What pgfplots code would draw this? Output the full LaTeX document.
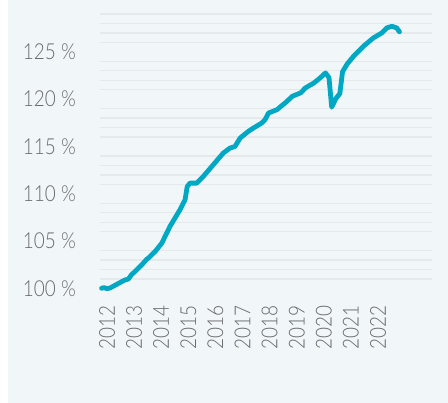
\documentclass[border=0pt]{standalone}
\usepackage{pgfplots}
\pgfplotsset{compat=1.18}
\usepackage{fontspec}
\setmainfont{Liberation Sans}
\newfontfamily\tickfont[FakeStretch=0.86]{Lato Light}
\definecolor{bg}{RGB}{241,246,249}
\definecolor{gridc}{RGB}{229,233,235}
\definecolor{tickgray}{RGB}{105,105,105}
\definecolor{linec}{RGB}{0,168,196}
\begin{document}
\begin{tikzpicture}[x=1pt,y=1pt]
\useasboundingbox (0,0) rectangle (448,403);
\fill[bg] (8,0) rectangle (448,403);
\begin{axis}[
  at={(100pt,114.5pt)}, anchor=south west,
  scale only axis, width=332pt, height=274.5pt,
  xmin=2011.742, xmax=2023.99, ymin=100, ymax=129,
  axis line style={draw=none},
  tick style={draw=none},
  major tick length=0pt,
  xtick={2012,2013,2014,2015,2016,2017,2018,2019,2020,2021,2022},
  xticklabels={2012,2013,2014,2015,2016,2017,2018,2019,2020,2021,2022},
  ytick={100,105,110,115,120,125},
  yticklabels={100 \%,105 \%,110 \%,115 \%,120 \%,125 \%},
  ticklabel style={font=\tickfont\fontsize{22}{22}\selectfont, text=tickgray, inner sep=0pt},
  yticklabel style={anchor=east, xshift=-24pt},
  xticklabel style={rotate=90, anchor=east, xshift=-16.5pt},
  extra y ticks={101,102,103,104,106,107,108,109,111,112,113,114,116,117,118,119,121,122,123,124,126,127,128,129},
  extra y tick labels={},
  extra y tick style={grid=major},
  major grid style={draw=gridc, line width=1.3pt},
  clip=false,
]
\addplot[linec, line width=4.8pt, line join=round, line cap=round] coordinates {
(2011.80,100.02) (2011.89,100.10) (2011.99,99.98) (2012.11,100.05)
(2012.42,100.53) (2012.66,100.90) (2012.79,101.00) (2012.91,101.48)
(2013.03,101.78) (2013.28,102.49) (2013.46,103.07) (2013.52,103.20)
(2013.77,103.89) (2013.83,104.10) (2014.02,104.78) (2014.32,106.54)
(2014.69,108.31) (2014.88,109.37) (2014.96,110.77) (2015.06,111.13)
(2015.31,111.13) (2015.55,111.83) (2015.92,113.07) (2016.29,114.31)
(2016.54,114.84) (2016.72,115.00) (2016.91,115.89) (2017.21,116.59)
(2017.40,116.95) (2017.71,117.48) (2017.83,117.83) (2017.96,118.54)
(2018.27,118.89) (2018.64,119.77) (2018.83,120.30) (2019.14,120.66)
(2019.32,121.19) (2019.63,121.71) (2019.86,122.24) (2020.06,122.77)
(2020.19,122.28) (2020.29,119.15) (2020.44,120.05) (2020.59,120.60)
(2020.69,122.90) (2020.87,123.76) (2021.06,124.40) (2021.09,124.53)
(2021.46,125.59) (2021.83,126.48) (2022.14,127.00) (2022.32,127.53)
(2022.51,127.70) (2022.69,127.53) (2022.79,127.11)
};
\end{axis}
\end{tikzpicture}
\end{document}
